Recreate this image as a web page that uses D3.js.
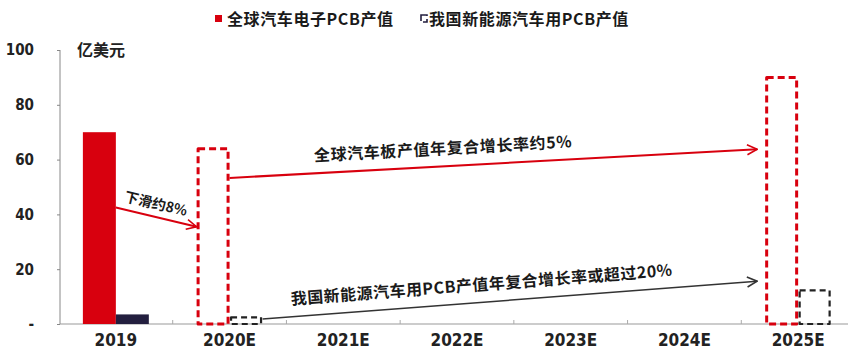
<!DOCTYPE html>
<html><head><meta charset="utf-8">
<script src="https://cdn.jsdelivr.net/npm/d3@7"></script>
<style>
body{margin:0;background:#fff;}
svg{display:block;}
</style></head>
<body>
<svg id="chart" width="848" height="351"></svg>
<script>
// ---- data ----
const categories = ["2019","2020E","2021E","2022E","2023E","2024E","2025E"];
const seriesNames = ["全球汽车电子PCB产值","我国新能源汽车用PCB产值"];
const globalValues = [70, 64.5, null, null, null, null, 90.5];
const nevValues = [3.5, 3, null, null, null, null, 12.8];
const estimated = [false, true, false, false, false, false, true];
const yTicks = [0, 20, 40, 60, 80, 100];
const yTickLabels = ["-", "20", "40", "60", "80", "100"];
const unitLabel = "亿美元";
// annotations: from/to category, series side, and values (亿美元)
const annoText = ["下滑约8%", "全球汽车板产值年复合增长率约5%", "我国新能源汽车用PCB产值年复合增长率或超过20%"];
const annoFrom = [{cat:"2019", s:0, v:42.5}, {cat:"2020E", s:0, v:53.3}, {cat:"2020E", s:1, v:1.8}];
const annoTo = [{cat:"2020E", s:0, v:35.5}, {cat:"2025E", s:0, v:63.8}, {cat:"2025E", s:0, v:15.6}];

// ---- layout ----
const svg = d3.select("#chart");
const red = "#d8000e", navy = "#231f3f";
const x = d3.scaleBand().domain(categories).range([59, 855]);
const x1 = d3.scaleBand().domain([0,1]).range([x.bandwidth()*0.21, x.bandwidth()*0.79]);
const y = d3.scaleLinear().domain([0, 100]).range([324, 50]);
const numFont = "'Liberation Sans Narrow','DejaVu Sans Condensed','Liberation Sans',Arial,sans-serif";
const cjkFont = "'Noto Sans CJK SC','Noto Sans',sans-serif";

const defs = svg.append("defs");
function marker(id, color){
  defs.append("marker").attr("id", id).attr("viewBox","0 0 12 12").attr("refX",11).attr("refY",6)
    .attr("markerWidth",12).attr("markerHeight",12).attr("markerUnits","userSpaceOnUse").attr("orient","auto")
    .append("path").attr("d","M1,1 L11,6 L1,11").attr("fill","none").attr("stroke",color).attr("stroke-width",1.6);
}
marker("arrRed", red); marker("arrDark", "#333");

// y axis
const yAxisG = svg.append("g").attr("transform","translate(60,0)")
  .call(d3.axisLeft(y).tickValues(yTicks).tickSize(3).tickFormat((d,i)=>yTickLabels[i]));
yAxisG.select(".domain").attr("stroke","#888").attr("d","M0,"+y(100)+"V"+y(0));
yAxisG.selectAll(".tick line").attr("stroke","#888");
yAxisG.selectAll(".tick text").attr("x",-26).attr("font-family",numFont).attr("font-size",15)
  .attr("font-weight","bold").attr("fill","#222");

// x axis
const xAxisG = svg.append("g").attr("transform","translate(0,"+y(0)+")")
  .call(d3.axisBottom(x).tickSize(0));
xAxisG.select(".domain").attr("stroke","#999").attr("d","M60,0H848");
xAxisG.selectAll(".tick text").attr("dy",19).attr("font-family",numFont).attr("font-size",17)
  .attr("font-weight","bold").attr("fill","#222");
// boundary ticks
svg.append("g").selectAll("line").data(categories.slice(1)).join("line")
  .attr("x1", d=>x(d)).attr("x2", d=>x(d)).attr("y1", y(0)).attr("y2", y(0)-4)
  .attr("stroke","#aaa").attr("stroke-width",1);

// bars
const series = [globalValues, nevValues];
const colors = [red, navy];
const barsG = svg.append("g");
series.forEach((vals, s) => {
  categories.forEach((c, i) => {
    const v = vals[i];
    if (v == null) return;
    const bx = x(c) + x1(s), bw = x1.bandwidth(), by = y(v), bh = y(0) - y(v);
    if (!estimated[i]) {
      barsG.append("rect").attr("x",bx).attr("y",by).attr("width",bw).attr("height",bh).attr("fill",colors[s]);
    } else {
      barsG.append("rect").attr("x",bx+1.5).attr("y",by+1.5).attr("width",bw-3).attr("height",bh-1.5)
        .attr("fill","none").attr("stroke", s===0 ? red : "#222").attr("stroke-width", s===0 ? 3 : 2.2)
        .attr("stroke-dasharray", s===0 ? "7,4" : "6,4").attr("stroke-linejoin","round");
    }
  });
});

// unit label
svg.append("text").attr("x",77).attr("y",56).text(unitLabel)
  .attr("font-family",cjkFont).attr("font-size",16).attr("font-weight","bold").attr("fill","#222");

// annotations
const annoColor = [red, red, "#333"];
const annoMarker = ["arrRed","arrRed","arrDark"];
const annoSize = [14, 16, 16];
const annoSpacing = [0, 0.6, 0.5];
const annoOffset = [8, 12, 12];
annoText.forEach((t, k) => {
  const f = annoFrom[k], g = annoTo[k];
  const x0 = x(f.cat) + x1(f.s) + x1.bandwidth();
  const y0 = y(f.v);
  const x2 = x(g.cat) + x1(g.s) - (k===0 ? 0 : 8);
  const y2 = y(g.v);
  svg.append("line").attr("x1",x0).attr("y1",y0).attr("x2",x2).attr("y2",y2)
    .attr("stroke",annoColor[k]).attr("stroke-width", k===2 ? 1.5 : 2)
    .attr("marker-end","url(#"+annoMarker[k]+")");
  const ang = Math.atan2(y2-y0, x2-x0) * 180/Math.PI;
  const cx = k===0 ? x0 + (x2-x0)*0.46 : (k===1 ? 444 : 483);
  const cy = y0 + (cx - x0) * (y2-y0)/(x2-x0);
  svg.append("text").attr("transform","translate("+cx+","+cy+") rotate("+ang+") translate(0,"+(-annoOffset[k])+")")
    .attr("text-anchor","middle").text(t).attr("letter-spacing",annoSpacing[k])
    .attr("font-family",cjkFont).attr("font-size",annoSize[k]).attr("font-weight","bold").attr("fill","#1a1a1a");
});

// legend
const leg = svg.append("g");
leg.append("rect").attr("x",215).attr("y",15).attr("width",7).attr("height",7).attr("fill",red);
leg.append("text").attr("x",227).attr("y",25).text(seriesNames[0])
  .attr("font-family",cjkFont).attr("font-size",16).attr("letter-spacing",0.6).attr("font-weight","bold").attr("fill","#1a1a1a");
leg.append("rect").attr("x",421).attr("y",15).attr("width",6).attr("height",7)
  .attr("fill","none").attr("stroke",navy).attr("stroke-width",1.6).attr("stroke-dasharray","7,3");
leg.append("text").attr("x",429).attr("y",25).text(seriesNames[1])
  .attr("font-family",cjkFont).attr("font-size",16).attr("letter-spacing",0.6).attr("font-weight","bold").attr("fill","#1a1a1a");
</script>
</body></html>
